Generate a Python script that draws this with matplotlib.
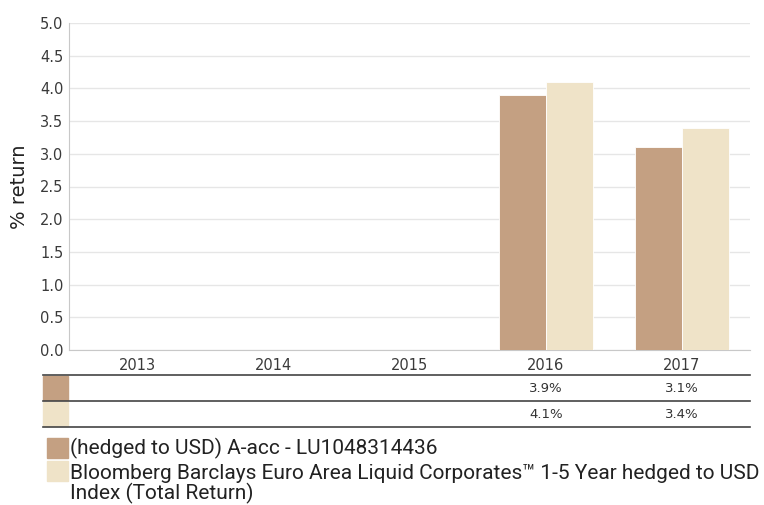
import numpy as np
import matplotlib.pyplot as plt
from matplotlib.lines import Line2D
from matplotlib.patches import Rectangle
from matplotlib.transforms import blended_transform_factory

years = ['2013', '2014', '2015', '2016', '2017']
fund = [np.nan, np.nan, np.nan, 3.9, 3.1]
index = [np.nan, np.nan, np.nan, 4.1, 3.4]
fund_name = '(hedged to USD) A-acc - LU1048314436'
index_name = 'Bloomberg Barclays Euro Area Liquid Corporates\u2122 1-5 Year hedged to USD\nIndex (Total Return)'

c_fund = '#c4a082'
c_index = '#efe3c8'

W, H = 764, 505
fig = plt.figure(figsize=(W / 100, H / 100), dpi=100)

def fx(px):
    return px / W

def fy(py):
    return 1 - py / H

# main plot area in pixels
left, right, top, bottom = 69, 750, 23, 350
ax = fig.add_axes([fx(left), fy(bottom), fx(right - left), (bottom - top) / H])

x = np.arange(len(years))
bw = 0.345
ax.bar(x - bw / 2, fund, bw, color=c_fund, edgecolor='white', linewidth=0.6, zorder=3)
ax.bar(x + bw / 2, index, bw, color=c_index, edgecolor='white', linewidth=0.6, zorder=3)

ax.set_xlim(-0.5, len(years) - 0.5)
ax.set_ylim(0, 5)
ax.set_yticks(np.arange(0, 5.01, 0.5))
ax.set_yticklabels(['%.1f' % v for v in np.arange(0, 5.01, 0.5)])
ax.set_xticks(x)
ax.set_xticklabels(years)
ax.tick_params(axis='both', length=0, labelsize=10.5, colors='#3a3a3a', pad=4)
ax.tick_params(axis='x', pad=6)
ax.grid(axis='y', color='#e6e6e6', linewidth=1, zorder=0)
for s in ['top', 'right']:
    ax.spines[s].set_visible(False)
ax.spines['left'].set_color('#c8c8c8')
ax.spines['bottom'].set_color('#c8c8c8')
ax.set_ylabel('% return', fontsize=14, color='#222222', labelpad=8)

# table under the chart
tr = blended_transform_factory(ax.transData, fig.transFigure)
for py in [375, 401, 427]:
    fig.add_artist(Line2D([fx(43), fx(right)], [fy(py), fy(py)], color='#444444', linewidth=1.2))
for i, (col, vals) in enumerate([(c_fund, fund), (c_index, index)]):
    y0 = 376 + i * 26
    fig.add_artist(Rectangle((fx(43), fy(y0 + 24)), fx(25), 24 / H, color=col,
                             transform=fig.transFigure))
    for j, v in enumerate(vals):
        if not np.isnan(v):
            fig.text(x[j], fy(y0 + 12.5), '%.1f%%' % v, transform=tr, ha='center', va='center',
                     fontsize=9.5, color='#333333')

# legend
fig.add_artist(Rectangle((fx(47), fy(458)), fx(21), 20 / H, color=c_fund, transform=fig.transFigure))
fig.add_artist(Rectangle((fx(47), fy(481)), fx(21), 20 / H, color=c_index, transform=fig.transFigure))
fig.text(fx(70), fy(448), fund_name, ha='left', va='center', fontsize=15,
         family='Roboto', color='#222222')
fig.text(fx(70), fy(484), index_name, ha='left', va='center', fontsize=15,
         family='Roboto', color='#222222', linespacing=0.95)

plt.savefig('out.png', dpi=100)
